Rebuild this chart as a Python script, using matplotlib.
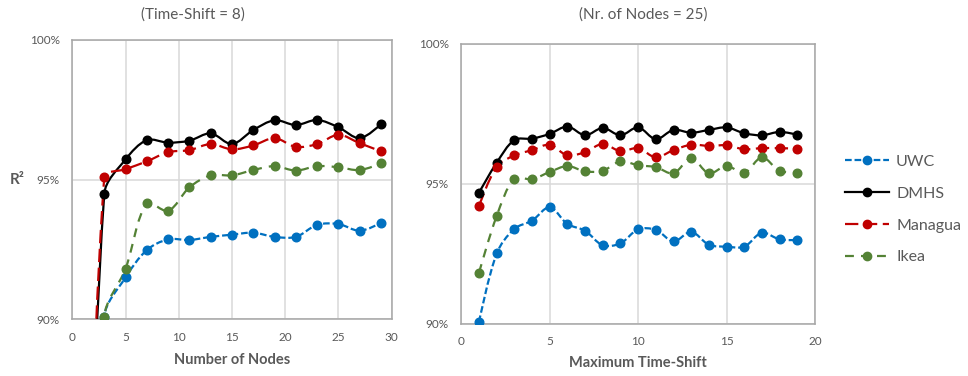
import numpy as np
import matplotlib
matplotlib.use("Agg")
import matplotlib.pyplot as plt
from matplotlib.path import Path
from matplotlib.patches import PathPatch
from matplotlib.lines import Line2D
from matplotlib.ticker import PercentFormatter

plt.rcParams['font.family'] = ['Lato', 'DejaVu Sans']

# ---------------- data ----------------
series_names = ["UWC", "DMHS", "Managua", "Ikea"]

# Left: R^2 (%) vs number of nodes (time-shift = 8); first point is below the axis range
nodes = [1, 3, 5, 7, 9, 11, 13, 15, 17, 19, 21, 23, 25, 27, 29]
left_uwc = [64.0, 90.07, 91.50, 92.48, 92.86, 92.84, 92.95, 93.03, 93.10, 92.95, 92.95, 93.38, 93.41, 93.17, 93.45]
left_dmhs = [74.0, 94.48, 95.72, 96.41, 96.32, 96.39, 96.65, 96.27, 96.77, 97.12, 96.95, 97.13, 96.87, 96.48, 96.98]
left_managua = [74.5, 95.08, 95.37, 95.65, 95.98, 96.05, 96.27, 96.08, 96.22, 96.48, 96.17, 96.27, 96.60, 96.30, 96.01]
left_ikea = [64.0, 90.07, 91.81, 94.15, 93.88, 94.72, 95.15, 95.15, 95.34, 95.48, 95.32, 95.48, 95.44, 95.34, 95.58]

# Right: R^2 (%) vs maximum time-shift (nodes = 25)
shifts = list(range(1, 20))
right_uwc = [90.06, 92.51, 93.39, 93.68, 94.16, 93.56, 93.32, 92.80, 92.87, 93.37, 93.35, 92.94, 93.28, 92.82, 92.75, 92.75, 93.25, 93.01, 92.99]
right_dmhs = [94.68, 95.75, 96.56, 96.61, 96.78, 97.04, 96.73, 96.99, 96.73, 97.01, 96.59, 96.92, 96.82, 96.92, 97.01, 96.80, 96.73, 96.85, 96.75]
right_managua = [94.20, 95.61, 96.01, 96.20, 96.39, 96.01, 96.13, 96.42, 96.16, 96.27, 95.94, 96.20, 96.39, 96.35, 96.37, 96.23, 96.27, 96.27, 96.25]
right_ikea = [91.82, 93.85, 95.18, 95.16, 95.42, 95.63, 95.44, 95.46, 95.80, 95.66, 95.59, 95.37, 95.92, 95.37, 95.63, 95.39, 95.94, 95.46, 95.39]

left_title = "(Time-Shift = 8)"
right_title = "(Nr. of Nodes = 25)"
left_xlabel = "Number of Nodes"
right_xlabel = "Maximum Time-Shift"
ylabel = "R²"

# ---------------- styles ----------------
colors = ["#0070C0", "#000000", "#C00000", "#548235"]
dashes = [(0, (3, 1.3)), "-", (0, (6, 2.5)), (0, (4, 3.2))]
LW = 1.6
MS = 6.2
TXT = "#595959"
GRID = "#D9D9D9"
SPINE = "#A6A6A6"
TENSION = 1.0 / 3.0


def smooth_path(ax, x, y):
    """Smoothed line (length-weighted cardinal spline), built in screen-scaled space."""
    fig = ax.figure
    bb = ax.get_position()
    W, H = fig.get_size_inches() * fig.dpi
    x0, x1 = ax.get_xlim()
    y0, y1 = ax.get_ylim()
    sx = bb.width * W / (x1 - x0)
    sy = bb.height * H / (y1 - y0)
    P = np.column_stack([np.asarray(x, float) * sx, np.asarray(y, float) * sy])
    n = len(P)
    cin = [None] * n
    cout = [None] * n
    for i in range(n):
        if i == 0 or i == n - 1:
            cin[i] = P[i]
            cout[i] = P[i]
            continue
        T = P[i + 1] - P[i - 1]
        d01 = np.linalg.norm(P[i] - P[i - 1])
        d12 = np.linalg.norm(P[i + 1] - P[i])
        s = d01 + d12
        cin[i] = P[i] - T * TENSION * d01 / s
        cout[i] = P[i] + T * TENSION * d12 / s
    verts = [P[0]]
    codes = [Path.MOVETO]
    for i in range(n - 1):
        verts += [cout[i], cin[i + 1], P[i + 1]]
        codes += [Path.CURVE4] * 3
    V = np.array(verts)
    V[:, 0] /= sx
    V[:, 1] /= sy
    return Path(V, codes)


fig = plt.figure(figsize=(9.68, 3.76), dpi=100)
axL = fig.add_axes([0.0747, 0.1505, 0.3299, 0.7439])
axR = fig.add_axes([0.4766, 0.1391, 0.3653, 0.7447])


def draw(ax, x, ys, xmax):
    ax.set_xlim(0, xmax)
    ax.set_ylim(90, 100)
    for y, c, ls in zip(ys, colors, dashes):
        patch = PathPatch(smooth_path(ax, x, y), facecolor="none", edgecolor=c,
                          lw=LW, linestyle=ls, zorder=3, capstyle="butt")
        ax.add_patch(patch)
        ax.plot(x, y, "o", color=c, ms=MS, zorder=4, linestyle="none")
    ax.set_xlim(0, xmax)
    ax.set_ylim(90, 100)
    ax.set_xticks(np.arange(0, xmax + 1, 5))
    ax.set_yticks([90, 95, 100])
    ax.yaxis.set_major_formatter(PercentFormatter(decimals=0))
    ax.grid(True, color=GRID, lw=1.1, zorder=0)
    ax.set_axisbelow(True)
    for s in ax.spines.values():
        s.set_color(SPINE)
        s.set_linewidth(1.1)
    ax.tick_params(length=0, labelsize=8.5, labelcolor=TXT)
    ax.tick_params(axis="y", pad=9)
    ax.tick_params(axis="x", pad=9)


draw(axL, nodes, [left_uwc, left_dmhs, left_managua, left_ikea], 30)
draw(axR, shifts, [right_uwc, right_dmhs, right_managua, right_ikea], 20)

fig.text(193 / 968, 1 - 15 / 376, left_title, ha="center", va="center", fontsize=11, color=TXT)
fig.text(643 / 968, 1 - 15 / 376, right_title, ha="center", va="center", fontsize=11, color=TXT)
fig.text(232 / 968, 1 - 360 / 376, left_xlabel, ha="center", va="center", fontsize=10.5,
         fontweight="bold", color=TXT)
fig.text(638 / 968, 1 - 363 / 376, right_xlabel, ha="center", va="center", fontsize=10.5,
         fontweight="bold", color=TXT)
fig.text(17 / 968, 1 - 180 / 376, ylabel, ha="center", va="center", fontsize=11,
         fontweight="bold", color=TXT)

handles = [Line2D([], [], color=c, lw=LW, linestyle=ls, marker="o", ms=6)
           for c, ls in zip(colors, dashes)]
fig.legend(handles, series_names, loc="center left",
           bbox_to_anchor=(845 / 968, 1 - 209.6 / 376), frameon=False,
           fontsize=11.5, labelcolor=TXT, handlelength=2.75, handletextpad=0.45,
           labelspacing=1.1, borderpad=0, borderaxespad=0)

fig.savefig("out.png", dpi=100)
